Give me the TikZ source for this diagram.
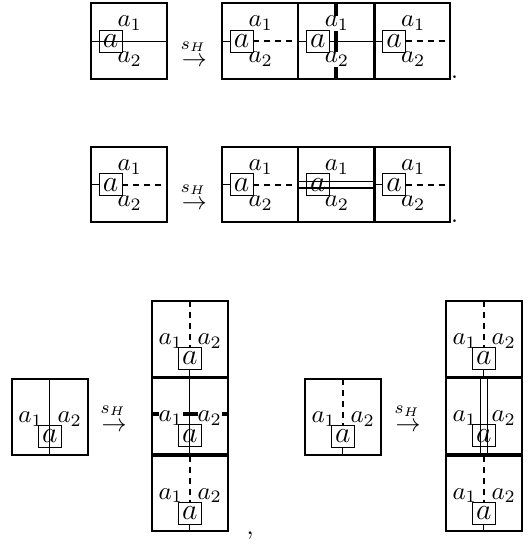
\documentclass[tikz,border=0pt]{standalone}
\usetikzlibrary{calc}
\newcommand{\HCell}[4]{%
  \coordinate (#1) at (#2,#3);
  \coordinate (#1-W) at (#2,#3+37.75);
  \coordinate (#1-E) at (#2+75.5,#3+37.75);
  \coordinate (#1-N) at (#2+37.75,#3);
  \coordinate (#1-S) at (#2+37.75,#3+75.5);
  \coordinate (#1-aW) at (#2+8,#3+37.75);
  \coordinate (#1-aE) at (#2+31,#3+37.75);
  #4
  \node[lab,anchor=base west] (#1-l1) at (#2+26,#3+23.5) {$a_1$};
  \node[lab,anchor=base west] (#1-l2) at (#2+26,#3+59.5) {$a_2$};
  \node[smallbox] (#1-a) at (#2+19.5,#3+37.75) {$a$};
  \draw[frame] (#1) rectangle ++(75.5,75.5);
}
\newcommand{\VCell}[4]{%
  \coordinate (#1) at (#2,#3);
  \coordinate (#1-N) at (#2+37.75,#3);
  \coordinate (#1-S) at (#2+37.75,#3+75.5);
  \coordinate (#1-W) at (#2,#3+36);
  \coordinate (#1-E) at (#2+75.5,#3+36);
  \coordinate (#1-aN) at (#2+37.75,#3+46.5);
  \coordinate (#1-aS) at (#2+37.75,#3+68.5);
  #4
  \node[lab,anchor=base west] (#1-l1) at (#2+6,#3+43.5) {$a_1$};
  \node[lab,anchor=base west] (#1-l2) at (#2+45,#3+43.5) {$a_2$};
  \node[smallbox] (#1-a) at (#2+37.75,#3+57.5) {$a$};
  \draw[frame] (#1) rectangle ++(75.5,75.5);
}
\begin{document}
\begin{tikzpicture}[x=0.4pt,y=-0.4pt,
  frame/.style={line width=0.8pt},
  seg/.style={line width=0.5pt},
  dsh/.style={line width=0.7pt, dash pattern=on 2.4pt off 2pt},
  thk/.style={line width=1.6pt},
  thkh/.style={line width=1.4pt},
  dbl/.style={line width=0.5pt, double, double distance=2.2pt},
  smallbox/.style={draw, line width=0.4pt, minimum width=9.2pt, minimum height=8.8pt, inner sep=0pt, font=\large},
  lab/.style={fill=white, inner sep=0pt},
  arr/.style={anchor=base, inner sep=0pt},
  punct/.style={anchor=base west, inner sep=0pt}]
\useasboundingbox (0,0) rectangle (531,550);
% ---------- row 1
\HCell{A}{91}{3.5}{\draw[seg] (A-W) -- (A-E);}
\node[arr] (ar1) at (194.3,67) {$\rightarrow$};
\node[arr] (sh1) at (193.3,49.3) {$\scriptstyle s_H$};
\HCell{B1}{222}{3.5}{\draw[seg] (B1-W) -- (B1-aW); \draw[dsh] (B1-aE) -- (B1-E);}
\HCell{B2}{298.25}{3.5}{\draw[seg] (B2-W) -- (B2-aW); \draw[seg] (B2-aE) -- (B2-E); \draw[thk] (B2-N) -- (B2-S);}
\HCell{B3}{374.5}{3.5}{\draw[seg] (B3-W) -- (B3-aW); \draw[dsh] (B3-aE) -- (B3-E);}
\node[punct] (p1) at (450.5,79) {.};
% ---------- row 2
\HCell{C}{91}{147}{\draw[seg] (C-W) -- (C-aW); \draw[dsh] (C-aE) -- (C-E);}
\node[arr] (ar2) at (194.3,209.5) {$\rightarrow$};
\node[arr] (sh2) at (193.3,192.3) {$\scriptstyle s_H$};
\HCell{D1}{222}{147}{\draw[seg] (D1-W) -- (D1-aW); \draw[dsh] (D1-aE) -- (D1-E);}
\HCell{D2}{298.25}{147}{\draw[dbl] (D2-W) -- (D2-E);}
\HCell{D3}{374.5}{147}{\draw[seg] (D3-W) -- (D3-aW); \draw[dsh] (D3-aE) -- (D3-E);}
\node[punct] (p2) at (450.5,222.5) {.};
% ---------- row 3, left
\VCell{E}{12}{379}{\draw[seg] (E-N) -- (E-S);}
\node[arr] (ar3) at (114,431) {$\rightarrow$};
\node[arr] (sh3) at (113,413) {$\scriptstyle s_H$};
\VCell{F1}{152}{301}{\draw[dsh] (F1-N) -- (F1-aN); \draw[seg] (F1-aS) -- (F1-S);}
\VCell{F2}{152}{378.2}{\draw[seg] (F2-N) -- (F2-S); \draw[thkh] (F2-W) -- (F2-E);}
\VCell{F3}{152}{455.5}{\draw[dsh] (F3-N) -- (F3-aN); \draw[seg] (F3-aS) -- (F3-S);}
\node[punct] (p3) at (246,534) {,};
% ---------- row 3, right
\VCell{G}{305}{379}{\draw[dsh] (G-N) -- (G-aN); \draw[seg] (G-aS) -- (G-S);}
\node[arr] (ar4) at (408,431) {$\rightarrow$};
\node[arr] (sh4) at (407,413.6) {$\scriptstyle s_H$};
\VCell{H1}{446}{301}{\draw[dsh] (H1-N) -- (H1-aN); \draw[seg] (H1-aS) -- (H1-S);}
\VCell{H2}{446}{378.2}{\draw[dbl] (H2-N) -- (H2-S);}
\VCell{H3}{446}{455.5}{\draw[dsh] (H3-N) -- (H3-aN); \draw[seg] (H3-aS) -- (H3-S);}
\end{tikzpicture}
\end{document}
